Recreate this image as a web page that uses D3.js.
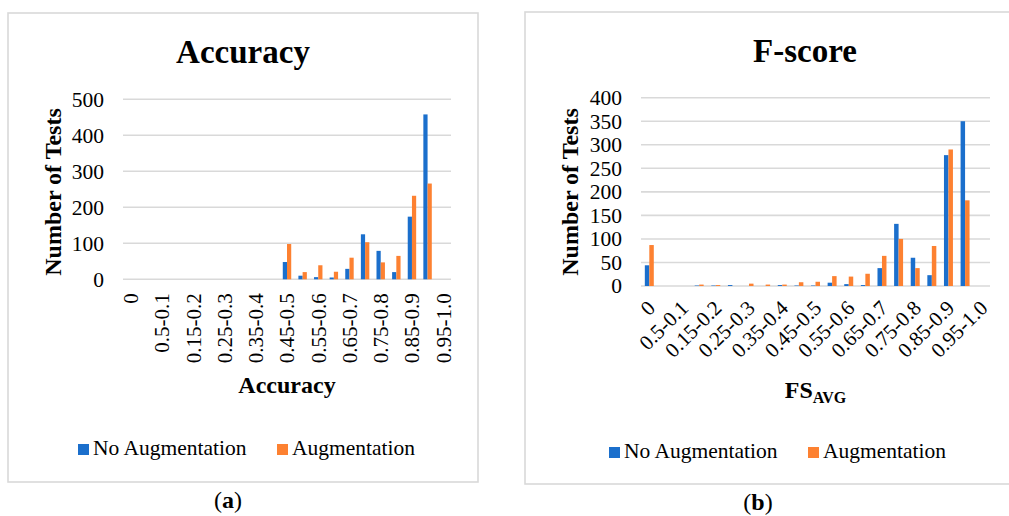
<!DOCTYPE html>
<html>
<head>
<meta charset="utf-8">
<script src="https://cdn.jsdelivr.net/npm/d3@7"></script>
<style>
  html, body { margin: 0; padding: 0; background: #fff; }
  svg { display: block; }
  text { font-family: "Liberation Serif", "Times New Roman", serif; fill: #000; }
</style>
</head>
<body>
<svg id="chart" width="1009" height="516"></svg>
<script>
// ---------------- DATA ----------------
const categories = ["0", "0-0.05", "0.5-0.1", "0.1-0.15", "0.15-0.2", "0.2-0.25", "0.25-0.3",
  "0.3-0.35", "0.35-0.4", "0.4-0.45", "0.45-0.5", "0.5-0.55", "0.55-0.6", "0.6-0.65",
  "0.65-0.7", "0.7-0.75", "0.75-0.8", "0.8-0.85", "0.85-0.9", "0.9-0.95", "0.95-1.0"];
const tickCategories = ["0", "0.5-0.1", "0.15-0.2", "0.25-0.3", "0.35-0.4", "0.45-0.5",
  "0.55-0.6", "0.65-0.7", "0.75-0.8", "0.85-0.9", "0.95-1.0"];
const seriesNames = ["No Augmentation", "Augmentation"];

const accuracyNoAug = [0, 0, 0, 0, 0, 0, 0, 0, 0, 0, 48, 10, 6, 5, 29, 125, 79, 20, 174, 458, 0];
const accuracyAug   = [0, 0, 0, 0, 0, 0, 0, 0, 0, 0, 98, 20, 39, 21, 60, 103, 47, 65, 232, 266, 0];
const accuracyYTicks = [0, 100, 200, 300, 400, 500];

const fscoreNoAug = [44, 0, 0, 1, 1, 2, 0, 0, 2, 1, 1, 7, 4, 2, 38, 132, 60, 23, 278, 350, 0];
const fscoreAug   = [87, 0, 0, 3, 2, 0, 5, 3, 3, 8, 9, 21, 20, 26, 64, 100, 38, 85, 290, 182, 0];
const fscoreYTicks = [0, 50, 100, 150, 200, 250, 300, 350, 400];

// ---------------- STYLE ----------------
const colors = ["#1b6fcc", "#fd8131"];
const gridColor = "#d9d9d9";

const svg = d3.select("#chart");

function drawPanel(cfg) {
  const g = svg.append("g");
  // panel border
  g.append("rect")
    .attr("x", cfg.box[0]).attr("y", cfg.box[1])
    .attr("width", cfg.box[2]).attr("height", cfg.box[3])
    .attr("fill", "#fff").attr("stroke", gridColor).attr("stroke-width", 1.6);

  const x0 = d3.scaleBand().domain(categories)
    .range([cfg.plot.left, cfg.plot.right]).paddingInner(0.46).paddingOuter(0.23);
  const x1 = d3.scaleBand().domain(seriesNames).range([0, x0.bandwidth()]);
  const y = d3.scaleLinear().domain(cfg.yDomain).range([cfg.plot.bottom, cfg.plot.top]);

  // gridlines
  g.append("g").selectAll("line").data(cfg.yTicks).join("line")
    .attr("x1", cfg.plot.left).attr("x2", cfg.plot.right)
    .attr("y1", d => y(d)).attr("y2", d => y(d))
    .attr("stroke", gridColor).attr("stroke-width", 1.6);

  // y axis labels
  const ya = g.append("g").attr("transform", `translate(${cfg.plot.left},0)`)
    .call(d3.axisLeft(y).tickValues(cfg.yTicks).tickSize(0).tickPadding(19).tickFormat(d3.format("d")));
  ya.select(".domain").remove();
  ya.selectAll("text").style("font-size", "21.5px").style("font-family", "Liberation Serif").attr("fill", "#000");

  // bars
  const rows = categories.map((c, i) => ({ c, vals: [cfg.s1[i], cfg.s2[i]] }));
  const grp = g.append("g").selectAll("g").data(rows).join("g")
    .attr("transform", d => `translate(${x0(d.c)},0)`);
  grp.selectAll("rect").data(d => d.vals.map((v, k) => ({ k, v }))).join("rect")
    .attr("x", d => x1(seriesNames[d.k]))
    .attr("width", x1.bandwidth())
    .attr("y", d => y(d.v))
    .attr("height", d => y(0) - y(d.v))
    .attr("fill", d => colors[d.k]);

  // x axis labels
  const xa = g.append("g").attr("transform", `translate(0,${cfg.plot.bottom})`)
    .call(d3.axisBottom(x0).tickValues(tickCategories).tickSize(0));
  xa.select(".domain").remove();
  xa.selectAll("text").style("font-size", "21px").style("font-family", "Liberation Serif").attr("fill", "#000");
  if (cfg.rotate === 90) {
    xa.selectAll("text")
      .attr("text-anchor", "end")
      .attr("transform", "translate(0,14) rotate(-90)")
      .attr("x", 0).attr("y", 0).attr("dy", "0.35em");
  } else {
    xa.selectAll("text")
      .attr("text-anchor", "end")
      .attr("transform", `translate(${cfg.xlabOff[0]},${cfg.xlabOff[1]}) rotate(-45)`)
      .attr("x", 0).attr("y", 0).attr("dy", "0.35em");
  }

  // title
  g.append("text").attr("x", cfg.titlePos[0]).attr("y", cfg.titlePos[1])
    .attr("text-anchor", "middle").style("font-size", "33px").style("font-weight", "bold")
    .text(cfg.title);

  // y title
  g.append("text")
    .attr("transform", `translate(${cfg.yTitlePos[0]},${cfg.yTitlePos[1]}) rotate(-90)`)
    .attr("text-anchor", "middle").style("font-size", "24px").style("font-weight", "bold")
    .text("Number of Tests");

  // x title
  const xt = g.append("text").attr("x", (cfg.plot.left + cfg.plot.right) / 2).attr("y", cfg.xTitleY)
    .attr("text-anchor", "middle").style("font-weight", "bold");
  xt.append("tspan").style("font-size", "24px").text(cfg.xTitle[0]);
  if (cfg.xTitle[1]) {
    xt.append("tspan").style("font-size", "16px").attr("dy", "5").text(cfg.xTitle[1]);
  }

  // legend
  const lg = g.append("g");
  seriesNames.forEach((name, k) => {
    const lx = cfg.legend[k];
    lg.append("rect").attr("x", lx).attr("y", cfg.legendY - 11)
      .attr("width", 11).attr("height", 11).attr("fill", colors[k]);
    lg.append("text").attr("x", lx + 15).attr("y", cfg.legendY)
      .style("font-size", "21.5px").text(name);
  });

  // caption
  const cap = g.append("text").attr("x", cfg.caption[0]).attr("y", cfg.caption[1])
    .attr("text-anchor", "middle").style("font-size", "24px");
  cap.append("tspan").text("(");
  cap.append("tspan").style("font-weight", "bold").text(cfg.captionLetter);
  cap.append("tspan").text(")");
}

drawPanel({
  box: [8, 13, 470, 469],
  plot: { left: 123, right: 451, top: 99.3, bottom: 279.3 },
  yDomain: [0, 500], yTicks: accuracyYTicks,
  s1: accuracyNoAug, s2: accuracyAug,
  rotate: 90,
  title: "Accuracy", titlePos: [243, 63],
  yTitlePos: [61, 192],
  xTitle: ["Accuracy"], xTitleY: 393,
  legend: [78, 277], legendY: 455,
  caption: [228, 508], captionLetter: "a"
});

drawPanel({
  box: [525, 12, 500, 472],
  plot: { left: 641, right: 990, top: 97.7, bottom: 286 },
  yDomain: [0, 400], yTicks: fscoreYTicks,
  s1: fscoreNoAug, s2: fscoreAug,
  rotate: 45, xlabOff: [2, 18],
  title: "F-score", titlePos: [805, 62],
  yTitlePos: [578, 192],
  xTitle: ["FS", "AVG"], xTitleY: 398,
  legend: [609, 808], legendY: 458,
  caption: [758, 510], captionLetter: "b"
});
</script>
</body>
</html>
